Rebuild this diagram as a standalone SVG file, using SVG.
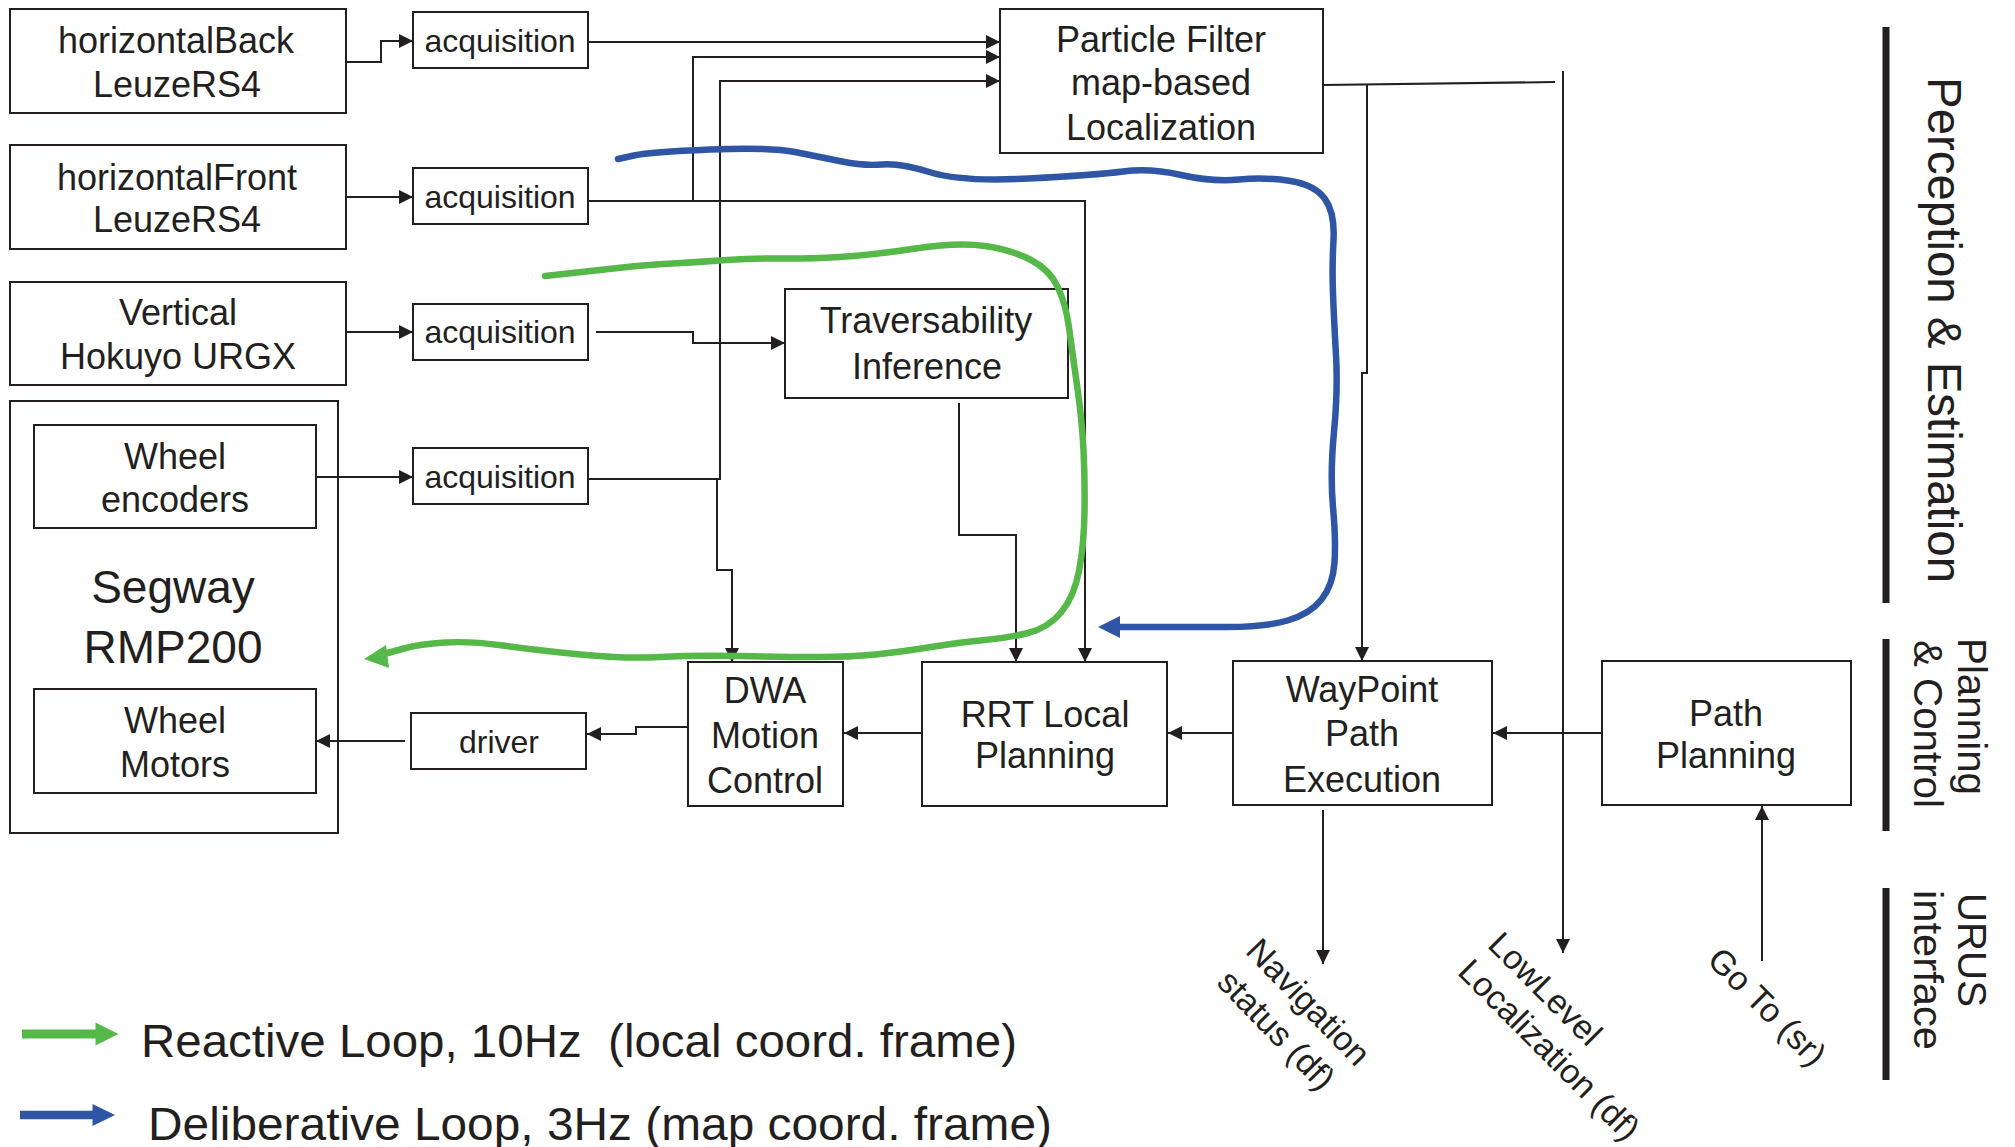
<svg xmlns="http://www.w3.org/2000/svg" width="2015" height="1147" viewBox="0 0 2015 1147">
  <style>
    text { font-family: "Liberation Sans", Arial, Helvetica, sans-serif; fill: #231f20; }
    .box { fill: #ffffff; stroke: #231f20; stroke-width: 2; }
    .lbl { font-size: 36px; text-anchor: middle; }
    .small { font-size: 32px; text-anchor: middle; }
    .rot { font-size: 34px; text-anchor: middle; }
    .side { font-size: 41px; }
    .legend { font-size: 47px; white-space: pre; }
    .wire { fill: none; stroke: #231f20; stroke-width: 2; }
    .arrow { marker-end: url(#head); }
    .bar { stroke: #231f20; stroke-width: 7; }
    .green { fill: none; stroke: #55b848; stroke-width: 6.5; stroke-linecap: round; stroke-linejoin: round; }
    .blue { fill: none; stroke: #2f55a5; stroke-width: 6.5; stroke-linecap: round; stroke-linejoin: round; }
  </style>
  <defs>
    <marker id="head" markerUnits="userSpaceOnUse" markerWidth="14" markerHeight="14" refX="14" refY="7" orient="auto">
      <path d="M0,0 L14,7 L0,14 z" fill="#231f20"/>
    </marker>
  </defs>

  <rect width="2015" height="1147" fill="#ffffff"/>

  <!-- sensor nodes -->
  <g id="horizontalBack">
    <rect class="box" x="10" y="9" width="336" height="104"/>
    <text class="lbl" x="176" y="53">horizontalBack</text>
    <text class="lbl" x="177" y="97">LeuzeRS4</text>
  </g>
  <g id="horizontalFront">
    <rect class="box" x="10" y="145" width="336" height="104"/>
    <text class="lbl" x="177" y="190">horizontalFront</text>
    <text class="lbl" x="177" y="232">LeuzeRS4</text>
  </g>
  <g id="vertical">
    <rect class="box" x="10" y="282" width="336" height="103"/>
    <text class="lbl" x="178" y="325">Vertical</text>
    <text class="lbl" x="178" y="369">Hokuyo URGX</text>
  </g>

  <!-- acquisition / driver nodes -->
  <g id="acq1">
    <rect class="box" x="413" y="12" width="175" height="56"/>
    <text class="small" x="500" y="52">acquisition</text>
  </g>
  <g id="acq2">
    <rect class="box" x="413" y="168" width="175" height="56"/>
    <text class="small" x="500" y="208">acquisition</text>
  </g>
  <g id="acq3">
    <rect class="box" x="413" y="304" width="175" height="56"/>
    <text class="small" x="500" y="343">acquisition</text>
  </g>
  <g id="acq4">
    <rect class="box" x="413" y="448" width="175" height="56"/>
    <text class="small" x="500" y="488">acquisition</text>
  </g>
  <g id="driver">
    <rect class="box" x="411" y="713" width="175" height="56"/>
    <text class="small" x="499" y="753">driver</text>
  </g>

  <!-- robot platform -->
  <g id="segway">
    <rect class="box" x="10" y="401" width="328" height="432"/>
    <text x="173" y="603" font-size="46" text-anchor="middle">Segway</text>
    <text x="173" y="663" font-size="46" text-anchor="middle">RMP200</text>
  </g>
  <g id="wheelEncoders">
    <rect class="box" x="34" y="425" width="282" height="103"/>
    <text class="lbl" x="175" y="469">Wheel</text>
    <text class="lbl" x="175" y="512">encoders</text>
  </g>
  <g id="wheelMotors">
    <rect class="box" x="34" y="689" width="282" height="104"/>
    <text class="lbl" x="175" y="733">Wheel</text>
    <text class="lbl" x="175" y="777">Motors</text>
  </g>

  <!-- processing nodes -->
  <g id="particleFilter">
    <rect class="box" x="1000" y="9" width="323" height="144"/>
    <text class="lbl" x="1161" y="52">Particle Filter</text>
    <text class="lbl" x="1161" y="95">map-based</text>
    <text class="lbl" x="1161" y="140">Localization</text>
  </g>
  <g id="traversability">
    <rect class="box" x="785" y="289" width="283" height="109"/>
    <text class="lbl" x="926" y="333">Traversability</text>
    <text class="lbl" x="927" y="379">Inference</text>
  </g>
  <g id="dwa">
    <rect class="box" x="688" y="662" width="155" height="144"/>
    <text class="lbl" x="765" y="703">DWA</text>
    <text class="lbl" x="765" y="748">Motion</text>
    <text class="lbl" x="765" y="793">Control</text>
  </g>
  <g id="rrt">
    <rect class="box" x="922" y="662" width="245" height="144"/>
    <text class="lbl" x="1045" y="727">RRT Local</text>
    <text class="lbl" x="1045" y="768">Planning</text>
  </g>
  <g id="waypoint">
    <rect class="box" x="1233" y="661" width="259" height="144"/>
    <text class="lbl" x="1362" y="702">WayPoint</text>
    <text class="lbl" x="1362" y="746">Path</text>
    <text class="lbl" x="1362" y="792">Execution</text>
  </g>
  <g id="pathPlanning">
    <rect class="box" x="1602" y="661" width="249" height="144"/>
    <text class="lbl" x="1726" y="726">Path</text>
    <text class="lbl" x="1726" y="768">Planning</text>
  </g>

  <!-- data-flow connectors -->
  <g id="connectors">
    <path class="wire arrow" d="M346,62 H381 V41 H413"/>
    <path class="wire arrow" d="M346,197 H413"/>
    <path class="wire arrow" d="M346,332 H413"/>
    <path class="wire arrow" d="M317,477 H413"/>
    <path class="wire arrow" d="M588,42 H1000"/>
    <path class="wire arrow" d="M588,201 H1085 V662"/>
    <path class="wire arrow" d="M693,201 V57 H1000"/>
    <path class="wire arrow" d="M596,332 H693 V343 H785"/>
    <path class="wire arrow" d="M588,479 H720 V81 H1000"/>
    <path class="wire arrow" d="M717,479 V570 H732 V662"/>
    <path class="wire arrow" d="M959,403 V535 H1016 V662"/>
    <path class="wire" d="M1323,85 L1555,82"/>
    <path class="wire arrow" d="M1367,85 V373 H1362 V661"/>
    <path class="wire arrow" d="M1563,71 V953"/>
    <path class="wire arrow" d="M1602,733 H1493"/>
    <path class="wire arrow" d="M1233,733 H1168"/>
    <path class="wire arrow" d="M922,733 H844"/>
    <path class="wire arrow" d="M688,727 H636 V734 H587"/>
    <path class="wire arrow" d="M405,741 H316"/>
    <path class="wire arrow" d="M1323,810 V964"/>
    <path class="wire arrow" d="M1762,961 V806"/>
  </g>

  <!-- control loops -->
  <g id="loops">
    <path class="green" d="M545,276 L572.5,273 Q600,270 622.5,267.5 Q645,265 672.5,263.5 Q700,262 726.5,260 Q753,258 779.5,258.5 Q806,259 839.5,257 Q873,255 915.5,248.5 Q958,242 985,246 Q1012,250 1031,260 Q1050,270 1058,287.5 Q1066,305 1069,327.5 Q1072,350 1077,385 Q1082,420 1083.5,450 Q1085,480 1084.5,512.5 Q1084,545 1079,571 Q1074,597 1061,612.5 Q1048,628 1028,633 Q1008,638 985,640 Q962,642 931,647 Q900,652 875.5,654.5 Q851,657 817.5,657 Q784,657 739.5,656 Q695,655 660,657 Q625,659 580.5,654.5 Q536,650 503,645.5 Q470,641 445,642.5 Q420,644 404,648.5 Q388,653 380,655"/>
    <polygon points="364,659 386,645 389,668" fill="#55b848"/>
    <path class="blue" d="M618,159 L634,155.5 Q650,152 710,149.5 Q770,147 795,152 Q820,157 842,161.5 Q864,166 882,164.5 Q900,163 931,172.5 Q962,182 1029,178.5 Q1096,175 1123,171.5 Q1150,168 1181,175 Q1212,182 1239,179.5 Q1266,177 1290.5,181 Q1315,185 1325,199 Q1335,213 1333.5,240 Q1332,267 1333,293.5 Q1334,320 1336,355 Q1338,390 1334,432 Q1330,474 1333,507 Q1336,540 1334.5,562.5 Q1333,585 1321.5,599.5 Q1310,614 1287.5,620.5 Q1265,627 1227.5,627 Q1190,627 1153.5,627 L1117,627"/>
    <polygon points="1098,627 1120,616 1120,638" fill="#2f55a5"/>
  </g>

  <!-- URUS interface labels -->
  <g id="interfaceLabels">
    <text class="rot" transform="translate(1300,1010) rotate(46)">Navigation</text>
    <text class="rot" transform="translate(1268,1038) rotate(46)">status (df)</text>
    <text class="rot" transform="translate(1537,997) rotate(45)">LowLevel</text>
    <text class="rot" transform="translate(1541,1058) rotate(45)">Localization (df)</text>
    <text class="rot" transform="translate(1759,1015) rotate(45)">Go To (sr)</text>
  </g>

  <!-- layer brackets -->
  <g id="layers">
    <line class="bar" x1="1886" y1="27" x2="1886" y2="603"/>
    <line class="bar" x1="1886" y1="639" x2="1886" y2="831"/>
    <line class="bar" x1="1886" y1="888" x2="1886" y2="1080"/>
    <text font-size="48" transform="translate(1928,77) rotate(90)" textLength="506" lengthAdjust="spacingAndGlyphs">Perception &amp; Estimation</text>
    <text class="side" transform="translate(1958,638) rotate(90)" textLength="157" lengthAdjust="spacingAndGlyphs">Planning</text>
    <text class="side" transform="translate(1914,640) rotate(90)" textLength="168" lengthAdjust="spacingAndGlyphs">&amp; Control</text>
    <text class="side" transform="translate(1958,893) rotate(90)" textLength="114" lengthAdjust="spacingAndGlyphs">URUS</text>
    <text class="side" transform="translate(1914,890) rotate(90)" textLength="160" lengthAdjust="spacingAndGlyphs">interface</text>
  </g>

  <!-- legend -->
  <g id="legend">
    <line x1="22" y1="1034" x2="97" y2="1034" stroke="#55b848" stroke-width="9"/>
    <polygon points="95.5,1022.5 118.5,1034 95.5,1045.5" fill="#55b848"/>
    <line x1="20" y1="1115" x2="94" y2="1115" stroke="#2f55a5" stroke-width="8.5"/>
    <polygon points="92.5,1104 115,1115 92.5,1126" fill="#2f55a5"/>
    <text class="legend" x="141" y="1057" xml:space="preserve" textLength="876" lengthAdjust="spacingAndGlyphs">Reactive Loop, 10Hz  (local coord. frame)</text>
    <text class="legend" x="148" y="1140" textLength="904" lengthAdjust="spacingAndGlyphs">Deliberative Loop, 3Hz (map coord. frame)</text>
  </g>
</svg>
